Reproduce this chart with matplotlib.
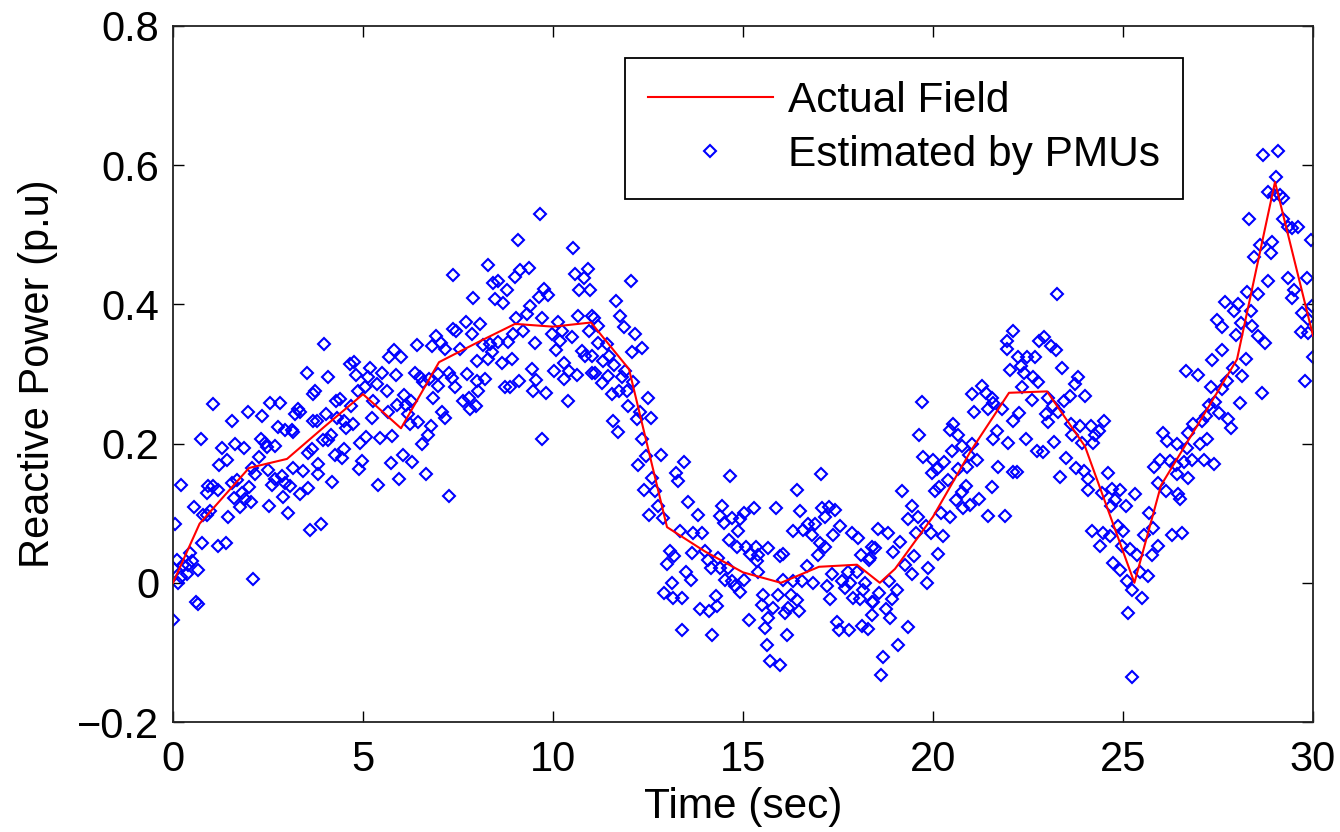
import matplotlib
matplotlib.use("Agg")
import matplotlib.pyplot as plt

plt.rcParams['font.family'] = ['Liberation Sans', 'DejaVu Sans']

# Actual field (red line) vertices
actual_t = [0, 0.7, 2, 3, 4, 5, 6, 7, 8, 9, 10, 11, 12, 13, 14, 15, 16, 17, 18, 18.6,
            19, 20, 21, 22, 23, 24, 25.3, 26, 27, 28, 29, 30]
actual_q = [0.0, 0.085, 0.165, 0.178, 0.225, 0.271, 0.222, 0.317, 0.345, 0.372, 0.368,
            0.374, 0.307, 0.08, 0.045, 0.015, 0.0, 0.023, 0.026, 0.0, 0.02, 0.095, 0.19,
            0.273, 0.275, 0.196, 0.0, 0.14, 0.23, 0.321, 0.576, 0.355]

# Estimated by PMUs (blue diamonds)
est_t_a = [1.06, 1.98, 2.55, 2.82, 2.35, 1.56, 3.30, 3.21, 3.34, 3.69, 3.69, 2.77, 2.95, 3.12, 3.17,
           0.73, 1.30, 1.63, 1.87, 2.31, 2.42, 2.47, 2.68, 2.27, 1.43, 1.21, 2.07, 2.16, 2.49, 2.68,
           2.86, 3.17, 3.43, 3.65, 3.56, 0.21, 0.93, 1.06, 1.19, 0.89, 1.54, 1.68, 2.00, 1.82, 1.61,
           1.89, 2.05, 1.76, 2.60, 2.95, 3.08, 2.90, 3.34, 3.56, 0.56, 0.80, 0.89, 0.97, 1.46, 2.53,
           3.03, 3.61, 0.05, 0.77, 1.18, 1.39, 0.45, 0.10, 0.00, 0.27, 0.40, 0.49, 0.65, 0.21, 0.36,
           0.14, 2.11, 0.61, 0.67, 0.01]
est_q_a = [0.257, 0.246, 0.258, 0.258, 0.239, 0.232, 0.250, 0.242, 0.245, 0.271, 0.232, 0.224, 0.219, 0.220, 0.216,
           0.207, 0.193, 0.200, 0.193, 0.207, 0.201, 0.195, 0.196, 0.181, 0.176, 0.169, 0.165, 0.156, 0.162, 0.149,
           0.154, 0.165, 0.160, 0.192, 0.187, 0.140, 0.139, 0.139, 0.134, 0.129, 0.143, 0.148, 0.138, 0.129, 0.122,
           0.121, 0.116, 0.109, 0.140, 0.144, 0.139, 0.123, 0.127, 0.136, 0.109, 0.097, 0.098, 0.103, 0.095, 0.110,
           0.101, 0.076, 0.085, 0.057, 0.053, 0.057, 0.043, 0.033, 0.021, 0.026, 0.026, 0.031, 0.019, 0.009, 0.012,
           0.000, 0.005, -0.027, -0.030, -0.054]

est_t_b = [7.38, 7.38, 6.91, 7.05, 7.16, 6.82, 6.41, 5.82, 5.68, 5.99, 3.98, 4.66, 4.77, 4.82, 4.07,
           5.18, 5.14, 5.51, 5.86, 6.37, 6.50, 6.59, 6.74, 6.98, 7.26, 7.35, 6.97, 6.85, 7.07, 7.16,
           3.52, 3.74, 4.88, 5.05, 5.36, 5.62, 6.08, 6.13, 6.26, 5.89, 5.27, 4.28, 4.39, 4.68, 4.02,
           3.78, 4.31, 4.51, 4.74, 4.54, 5.23, 5.67, 6.19, 6.24, 6.46, 6.79, 6.70, 6.56, 3.96, 4.09,
           4.16, 4.25, 4.51, 4.44, 4.92, 5.08, 5.45, 5.77, 4.98, 4.89, 3.82, 3.82, 4.18, 5.74, 6.06,
           6.30, 5.95, 5.40, 6.65, 7.26, 3.89]
est_q_b = [0.442, 0.365, 0.354, 0.344, 0.336, 0.340, 0.341, 0.335, 0.325, 0.325, 0.343, 0.314, 0.317, 0.298, 0.295,
           0.309, 0.295, 0.302, 0.298, 0.301, 0.295, 0.289, 0.293, 0.300, 0.301, 0.294, 0.283, 0.266, 0.245, 0.237,
           0.302, 0.276, 0.276, 0.282, 0.285, 0.276, 0.270, 0.256, 0.261, 0.256, 0.261, 0.261, 0.264, 0.254, 0.242,
           0.232, 0.237, 0.232, 0.228, 0.223, 0.237, 0.245, 0.242, 0.228, 0.231, 0.225, 0.213, 0.199, 0.205, 0.205,
           0.213, 0.184, 0.192, 0.180, 0.201, 0.210, 0.208, 0.211, 0.175, 0.163, 0.171, 0.156, 0.145, 0.172, 0.184,
           0.173, 0.149, 0.140, 0.156, 0.124, 0.085]

est_t_c = [9.66, 9.07, 10.53, 8.28, 9.00, 9.13, 9.37, 10.58, 10.91, 10.82, 8.43, 8.56, 8.47, 8.69, 8.78,
           7.90, 9.77, 9.63, 9.88, 9.39, 9.31, 10.68, 10.97, 9.02, 9.70, 10.14, 10.65, 11.02, 7.70, 7.44,
           8.08, 7.86, 8.96, 8.82, 9.22, 9.53, 9.97, 10.23, 10.49, 10.95, 10.07, 10.18, 10.76, 10.84, 11.02,
           7.55, 8.15, 8.34, 8.54, 8.40, 7.99, 8.30, 8.67, 8.91, 9.46, 10.03, 10.30, 10.42, 10.62, 10.30,
           11.02, 7.42, 7.73, 7.99, 8.21, 8.03, 9.54, 9.11, 9.48, 8.74, 8.87, 7.64, 7.79, 7.82, 7.97,
           9.82, 10.40, 9.72]
est_q_c = [0.530, 0.493, 0.481, 0.457, 0.440, 0.449, 0.453, 0.444, 0.451, 0.438, 0.431, 0.433, 0.408, 0.402, 0.420,
           0.409, 0.422, 0.410, 0.413, 0.397, 0.386, 0.420, 0.420, 0.380, 0.380, 0.375, 0.384, 0.384, 0.375, 0.362,
           0.372, 0.357, 0.357, 0.346, 0.362, 0.345, 0.357, 0.362, 0.353, 0.362, 0.334, 0.348, 0.333, 0.326, 0.326,
           0.336, 0.341, 0.343, 0.346, 0.332, 0.319, 0.321, 0.316, 0.321, 0.307, 0.304, 0.316, 0.304, 0.298, 0.293,
           0.302, 0.282, 0.300, 0.290, 0.293, 0.276, 0.291, 0.290, 0.276, 0.281, 0.281, 0.261, 0.266, 0.250, 0.254,
           0.272, 0.261, 0.206]

est_t_d = [12.05, 11.65, 11.76, 11.09, 11.88, 11.19, 12.16, 11.19, 11.41, 12.07, 12.35, 11.32, 11.47, 11.61, 11.11,
           11.44, 11.89, 11.82, 11.28, 12.11, 11.54, 11.74, 11.94, 12.49, 11.98, 12.29, 12.20, 12.58, 11.59, 11.70,
           12.33, 12.44, 12.84, 12.23, 13.46, 13.23, 13.28, 14.66, 12.60, 12.40, 12.68, 12.77, 12.53, 12.90, 13.54,
           13.82, 13.34, 13.69, 13.91, 14.46, 14.39, 14.51, 14.70, 14.63, 13.08, 13.19, 12.99, 13.67, 14.00, 14.07,
           14.16, 14.35, 14.39, 14.61, 14.70, 14.53, 13.49, 13.63, 13.14, 12.93, 13.17, 13.39, 14.28, 14.31, 13.87,
           14.11, 13.40, 14.19]
est_q_d = [0.433, 0.405, 0.384, 0.381, 0.368, 0.369, 0.357, 0.344, 0.343, 0.332, 0.337, 0.319, 0.326, 0.313, 0.302,
           0.297, 0.304, 0.295, 0.287, 0.288, 0.271, 0.276, 0.276, 0.265, 0.254, 0.245, 0.235, 0.237, 0.232, 0.216,
           0.206, 0.182, 0.184, 0.169, 0.173, 0.158, 0.146, 0.154, 0.151, 0.134, 0.132, 0.110, 0.098, 0.093, 0.116,
           0.098, 0.075, 0.072, 0.072, 0.111, 0.096, 0.086, 0.093, 0.062, 0.045, 0.039, 0.027, 0.043, 0.045, 0.033,
           0.021, 0.036, 0.021, 0.021, 0.002, 0.004, 0.016, 0.004, -0.001, -0.014, -0.022, -0.022, -0.019, -0.034, -0.038,
           -0.041, -0.068, -0.075]

est_t_e = [17.05, 16.41, 15.86, 15.30, 16.50, 17.09, 17.25, 17.42, 17.16, 15.03, 14.92, 14.88, 16.32, 16.59, 16.72,
           16.89, 16.81, 17.55, 17.38, 17.86, 18.02, 17.03, 17.16, 16.98, 18.39, 14.83, 15.07, 15.33, 15.18, 15.40,
           15.65, 16.06, 15.97, 15.36, 18.11, 18.32, 15.40, 16.68, 17.35, 17.76, 18.00, 14.79, 14.92, 15.03, 16.06,
           16.32, 16.56, 16.85, 17.20, 17.60, 17.82, 17.68, 18.21, 17.90, 18.08, 18.17, 18.39, 15.53, 15.91, 16.26,
           16.41, 15.49, 15.80, 16.19, 16.47, 16.11, 17.29, 15.67, 15.16, 17.47, 17.53, 17.79, 18.14, 18.30, 16.15,
           15.58, 15.62, 15.71, 15.97]
est_q_e = [0.156, 0.134, 0.108, 0.108, 0.103, 0.108, 0.109, 0.105, 0.095, 0.100, 0.091, 0.075, 0.074, 0.076, 0.084,
           0.085, 0.068, 0.082, 0.069, 0.072, 0.064, 0.057, 0.052, 0.040, 0.052, 0.052, 0.052, 0.052, 0.042, 0.040,
           0.050, 0.042, 0.038, 0.031, 0.040, 0.033, 0.015, 0.024, 0.012, 0.016, 0.015, -0.005, -0.013, 0.004, 0.004,
           0.002, 0.002, 0.000, -0.005, 0.002, 0.000, -0.008, 0.000, -0.022, -0.023, -0.010, -0.027, -0.017, -0.017, -0.017,
           -0.024, -0.032, -0.036, -0.036, -0.041, -0.044, -0.023, -0.051, -0.054, -0.056, -0.068, -0.068, -0.062, -0.067, -0.075,
           -0.065, -0.089, -0.113, -0.118]

est_t_f = [21.28, 21.02, 21.39, 21.54, 21.59, 21.46, 21.81, 21.09, 19.72, 22.11, 20.53, 20.45, 20.65, 19.63, 21.68,
           21.59, 21.97, 20.77, 21.03, 20.51, 20.95, 21.15, 19.74, 20.01, 20.30, 20.10, 19.97, 20.67, 20.89, 21.72,
           22.11, 20.40, 20.16, 20.05, 20.86, 20.76, 21.54, 19.18, 20.60, 20.80, 20.97, 21.21, 19.46, 20.21, 20.45,
           21.44, 21.89, 19.35, 19.60, 19.81, 18.56, 18.81, 19.54, 19.95, 20.27, 19.13, 18.47, 18.96, 18.34, 20.14,
           19.51, 19.26, 19.88, 19.44, 19.83, 18.84, 19.04, 18.58, 18.93, 18.43, 18.76, 18.87, 18.39, 19.33, 19.09,
           18.69, 18.63]
est_q_f = [0.283, 0.271, 0.273, 0.266, 0.259, 0.250, 0.249, 0.246, 0.260, 0.232, 0.228, 0.220, 0.212, 0.213, 0.218,
           0.206, 0.201, 0.197, 0.199, 0.189, 0.184, 0.177, 0.181, 0.176, 0.173, 0.164, 0.158, 0.163, 0.167, 0.167,
           0.159, 0.147, 0.138, 0.132, 0.139, 0.130, 0.138, 0.132, 0.119, 0.108, 0.112, 0.121, 0.110, 0.101, 0.095,
           0.096, 0.096, 0.092, 0.095, 0.082, 0.077, 0.072, 0.071, 0.071, 0.067, 0.058, 0.050, 0.044, 0.036, 0.042,
           0.038, 0.026, 0.021, 0.013, 0.000, 0.002, -0.010, -0.015, -0.023, -0.027, -0.038, -0.051, -0.046, -0.064, -0.089,
           -0.106, -0.133]

est_t_g = [23.26, 22.11, 21.94, 21.94, 22.79, 22.93, 23.11, 23.23, 22.23, 22.47, 22.68, 22.32, 22.03, 22.40, 23.40,
           22.64, 22.77, 23.81, 23.74, 22.35, 23.03, 22.60, 24.00, 23.61, 23.46, 23.17, 23.30, 22.25, 22.97, 23.02,
           23.63, 23.87, 24.16, 24.51, 24.37, 24.26, 23.67, 23.93, 24.22, 22.44, 23.19, 22.73, 22.90, 23.49, 23.75,
           23.98, 24.07, 23.34, 22.20, 24.60, 24.09, 24.44, 24.72, 24.92, 24.79, 24.68, 25.32, 25.07, 25.82, 25.68,
           25.80, 25.56, 24.18, 24.48, 24.66, 24.39, 24.86, 25.01, 24.97, 25.18, 25.36, 25.75, 24.74, 24.92, 25.45,
           25.65, 25.10, 25.24, 25.51, 25.14, 25.23]
est_q_g = [0.415, 0.362, 0.348, 0.336, 0.348, 0.353, 0.340, 0.335, 0.325, 0.325, 0.325, 0.312, 0.306, 0.301, 0.309,
           0.296, 0.288, 0.295, 0.285, 0.282, 0.266, 0.263, 0.268, 0.269, 0.261, 0.254, 0.245, 0.244, 0.242, 0.231,
           0.228, 0.225, 0.225, 0.232, 0.218, 0.212, 0.212, 0.201, 0.201, 0.206, 0.202, 0.189, 0.188, 0.180, 0.165,
           0.160, 0.149, 0.152, 0.159, 0.158, 0.133, 0.129, 0.135, 0.133, 0.119, 0.110, 0.128, 0.110, 0.167, 0.100,
           0.079, 0.069, 0.074, 0.072, 0.067, 0.053, 0.082, 0.074, 0.053, 0.048, 0.040, 0.040, 0.028, 0.019, 0.016,
           0.010, 0.002, -0.010, -0.022, -0.044, -0.135]

est_t_h = [28.69, 29.07, 29.03, 28.81, 28.98, 29.13, 29.22, 28.32, 29.22, 29.33, 29.44, 29.61, 29.95, 28.61, 28.93,
           28.89, 28.46, 28.81, 29.33, 29.83, 29.51, 29.44, 28.26, 28.54, 27.68, 28.02, 27.93, 28.37, 29.98, 29.72,
           29.88, 27.47, 27.61, 28.11, 28.40, 27.97, 28.56, 28.74, 29.68, 29.88, 30.00, 27.61, 27.35, 28.23, 27.90,
           29.79, 26.65, 26.97, 28.14, 27.73, 27.32, 27.60, 28.65, 27.42, 28.08, 27.25, 27.53, 27.18, 27.77, 27.09,
           27.84, 26.85, 26.72, 26.06, 26.15, 26.41, 27.03, 27.20, 26.68, 25.97, 26.24, 26.39, 26.81, 26.61, 27.14,
           27.40, 26.70, 26.41, 25.93, 26.12, 26.46, 26.50, 26.30, 26.56, 25.93]
est_q_h = [0.615, 0.620, 0.583, 0.562, 0.557, 0.557, 0.553, 0.522, 0.522, 0.511, 0.510, 0.511, 0.493, 0.485, 0.490,
           0.474, 0.468, 0.434, 0.438, 0.438, 0.420, 0.409, 0.418, 0.415, 0.404, 0.401, 0.391, 0.391, 0.398, 0.388,
           0.379, 0.377, 0.367, 0.373, 0.369, 0.356, 0.355, 0.345, 0.361, 0.359, 0.324, 0.335, 0.320, 0.322, 0.309,
           0.290, 0.304, 0.298, 0.297, 0.290, 0.281, 0.278, 0.272, 0.260, 0.258, 0.255, 0.244, 0.239, 0.235, 0.232,
           0.223, 0.228, 0.215, 0.215, 0.204, 0.199, 0.199, 0.206, 0.194, 0.177, 0.175, 0.169, 0.177, 0.173, 0.176,
           0.170, 0.151, 0.156, 0.144, 0.132, 0.127, 0.120, 0.068, 0.072, 0.053]

est_t = est_t_a + est_t_b + est_t_c + est_t_d + est_t_e + est_t_f + est_t_g + est_t_h
est_q = est_q_a + est_q_b + est_q_c + est_q_d + est_q_e + est_q_f + est_q_g + est_q_h

x_ticks = [0, 5, 10, 15, 20, 25, 30]
y_ticks = [-0.2, 0, 0.2, 0.4, 0.6, 0.8]
y_tick_labels = ['\u22120.2', '0', '0.2', '0.4', '0.6', '0.8']

fig = plt.figure(figsize=(13.4, 8.32), dpi=100)
ax = fig.add_axes([173 / 1340, 110 / 832, 1140 / 1340, 696 / 832])

h_est, = ax.plot(est_t, est_q, linestyle='none', marker='D', markersize=5.8,
                 markerfacecolor='none', markeredgecolor='#0000FF', markeredgewidth=1.5,
                 label='Estimated by PMUs', zorder=2)
h_act, = ax.plot(actual_t, actual_q, color='#FF0000', linewidth=1.5,
                 label='Actual Field', zorder=3)

ax.set_xlim(0, 30)
ax.set_ylim(-0.2, 0.8)
ax.set_xticks(x_ticks)
ax.set_xticklabels([str(v) for v in x_ticks])
ax.set_yticks(y_ticks)
ax.set_yticklabels(y_tick_labels)

ax.tick_params(axis='both', which='both', direction='in', length=8, width=1.0,
               top=True, right=True, labelsize=30, colors='black')
ax.tick_params(axis='x', pad=13)
ax.tick_params(axis='y', pad=10)
for sp in ax.spines.values():
    sp.set_linewidth(1.3)
    sp.set_color('#222222')

ax.set_xlabel('Time (sec)', fontsize=30.5)
ax.set_ylabel('Reactive Power (p.u)', fontsize=30)
ax.xaxis.set_label_coords(0.5, -0.093)
ax.yaxis.set_label_coords(-0.101, 0.5)

leg = ax.legend(handles=[h_act, h_est], loc='upper right',
                bbox_to_anchor=(1010 / 1140, 664 / 696), borderaxespad=0,
                fontsize=30.5, handlelength=2.95, handletextpad=0.35, labelspacing=0.33,
                borderpad=0.55, fancybox=False, framealpha=1, edgecolor='black',
                numpoints=1)
leg.get_frame().set_linewidth(1.3)

fig.savefig('out.png', dpi=100)
